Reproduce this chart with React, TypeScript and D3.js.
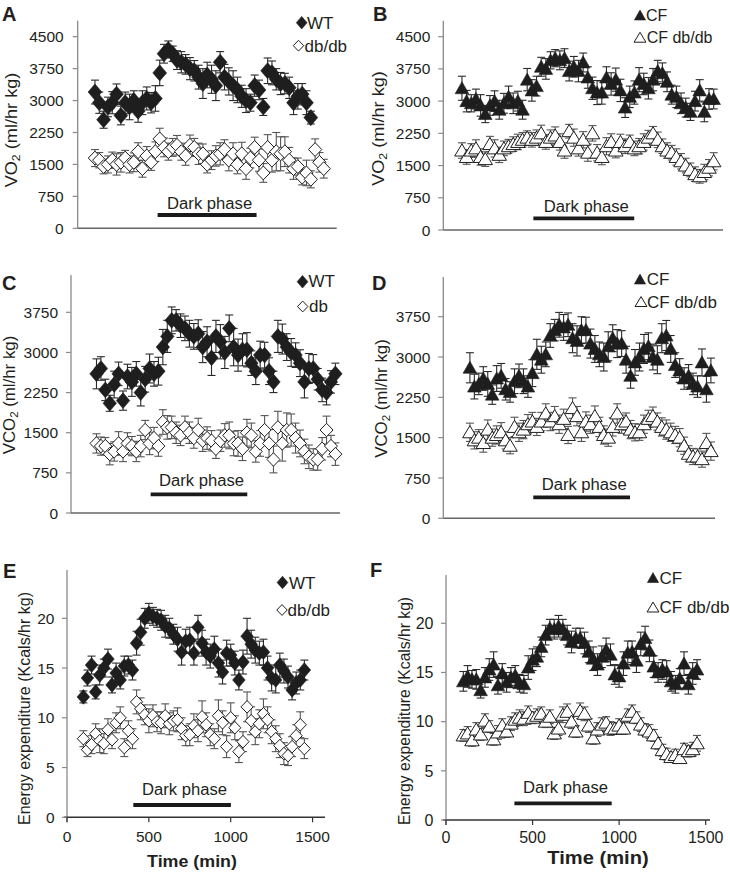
import React from 'react';
import * as d3 from 'd3';

// ---------- DATA ----------
const TIME = [100, 125, 150, 175, 200, 225, 250, 275, 300, 325, 350, 375, 400, 425, 450, 475, 500, 525, 550, 575,
  600, 625, 650, 675, 700, 725, 750, 775, 800, 825, 850, 875, 900, 925, 950, 975, 1000, 1025, 1050, 1075,
  1100, 1125, 1150, 1175, 1200, 1225, 1250, 1275, 1300, 1325, 1350, 1375, 1400, 1425, 1450];

const VO2_WT = [3200, 2950, 2550, 2850, 2950, 3150, 2650, 2950, 2850, 3000, 2750, 2950, 3050, 2950, 3050, 3650, 4100, 4200, 4100, 3950,
  3900, 3850, 3750, 3700, 3550, 3400, 3600, 3500, 3350, 3900, 3550, 3450, 3350, 3250, 3100, 3000, 2950, 3350, 3250, 2850,
  3700, 3650, 3500, 3400, 3400, 3300, 2950, 3100, 3150, 2950, 2600];
const VO2_WT_ERR = [280, 250, 200, 230, 260, 240, 220, 250, 300, 230, 260, 280, 270, 240, 300, 300, 220, 200, 180, 220,
  250, 230, 260, 240, 280, 350, 300, 330, 350, 250, 300, 320, 350, 300, 260, 280, 200, 250, 230, 200,
  300, 280, 250, 260, 240, 250, 280, 300, 250, 280, 150];
const VO2_DB = [1650, 1600, 1450, 1500, 1600, 1500, 1550, 1650, 1500, 1550, 1800, 1400, 1700, 1550, 1800, 2100, 1900, 1800, 1900, 1950,
  1800, 1700, 1950, 1900, 1750, 1750, 1500, 1600, 1700, 1750, 1850, 1600, 1750, 1500, 1750, 1400, 1650, 1900, 1600, 1300,
  1900, 1600, 1800, 1750, 1800, 1600, 1400, 1450, 1200, 1300, 1150, 1850, 1550, 1400];
const VO2_DB_ERR = [200, 180, 170, 200, 190, 250, 230, 180, 200, 220, 210, 200, 220, 190, 230, 250, 220, 200, 210, 230,
  200, 220, 240, 210, 250, 230, 200, 220, 240, 260, 230, 250, 260, 220, 270, 250, 230, 240, 260, 220,
  300, 280, 450, 400, 350, 300, 250, 200, 180, 300, 200, 250, 230, 220];

const VO2_CF = [3300, 3000, 2950, 3050, 2900, 2700, 2900, 3000, 2800, 2950, 3100, 2950, 3000, 2800, 3500, 3250, 3350, 3800, 3750, 3950,
  4000, 3950, 4000, 3700, 3800, 3700, 3900, 3550, 3300, 3200, 3200, 3550, 3400, 3500, 3250, 2850, 3100, 3200, 3500, 3400,
  3300, 3500, 3700, 3650, 3450, 3150, 3100, 2950, 2850, 2750, 3000, 3250, 2750, 3050, 3050];
const VO2_CF_ERR = [280, 250, 200, 230, 250, 200, 230, 240, 220, 230, 250, 240, 230, 220, 260, 250, 230, 220, 240, 200,
  200, 220, 220, 230, 240, 250, 220, 250, 260, 280, 270, 250, 260, 270, 260, 230, 250, 270, 280, 250,
  250, 260, 250, 240, 230, 220, 250, 240, 220, 200, 230, 250, 230, 240, 230];
const VO2_CFDB = [1850, 1700, 1850, 1900, 1700, 1650, 2000, 1900, 1750, 1900, 1950, 2000, 2050, 2100, 2150, 2100, 2150, 2250, 2050, 2150,
  2200, 2050, 1850, 2300, 2150, 1900, 2100, 1800, 2250, 1800, 1700, 1950, 2050, 1850, 2050, 1950, 2050, 1900, 1950, 2050,
  2150, 2250, 2100, 1950, 1850, 1800, 1700, 1600, 1500, 1400, 1300, 1250, 1350, 1450, 1600];
const VO2_CFDB_ERR = [180, 170, 160, 200, 190, 170, 180, 200, 180, 170, 160, 170, 180, 170, 160, 170, 180, 190, 170, 180,
  200, 190, 180, 160, 200, 180, 190, 200, 180, 190, 180, 200, 190, 170, 180, 170, 160, 170, 180, 190,
  170, 160, 180, 170, 180, 170, 190, 180, 170, 160, 170, 160, 180, 190, 200];

const VCO2_WT = [2600, 2700, 2300, 2050, 2400, 2600, 2100, 2550, 2450, 2600, 2250, 2500, 2700, 2600, 2650, 3100, 3300, 3600, 3600, 3500,
  3450, 3350, 3300, 3350, 3100, 3200, 2900, 3300, 3200, 3000, 3450, 3100, 2950, 3050, 3050, 2800, 2650, 2950, 2950, 2650,
  2450, 3300, 3250, 3100, 3000, 2950, 2800, 2450, 2700, 2700, 2500, 2300, 2250, 2450, 2600];
const VCO2_WT_ERR = [280, 220, 200, 150, 250, 220, 180, 230, 270, 230, 250, 240, 270, 230, 260, 330, 300, 250, 200, 220,
  230, 250, 240, 260, 290, 280, 330, 300, 320, 300, 250, 350, 300, 300, 320, 230, 250, 260, 240, 250,
  200, 300, 280, 250, 260, 230, 250, 300, 280, 260, 200, 220, 230, 210, 200];
const VCO2_DB = [1300, 1250, 1250, 1100, 1150, 1300, 1150, 1300, 1250, 1150, 1250, 1550, 1300, 1400, 1250, 1700, 1600, 1600, 1500, 1450,
  1600, 1500, 1400, 1550, 1350, 1400, 1350, 1200, 1350, 1450, 1450, 1300, 1300, 1200, 1500, 1450, 1150, 1300, 1550, 1300,
  1000, 1600, 1300, 1550, 1550, 1400, 1300, 1150, 1050, 1000, 1000, 1200, 1550, 1250, 1100];
const VCO2_DB_ERR = [180, 170, 160, 200, 180, 220, 190, 200, 180, 190, 200, 180, 210, 200, 190, 230, 220, 210, 200, 190,
  210, 200, 190, 220, 200, 210, 190, 180, 200, 220, 250, 230, 240, 220, 250, 230, 200, 240, 270, 260,
  250, 300, 330, 320, 300, 280, 250, 230, 220, 200, 200, 210, 260, 200, 210];

const VCO2_CF = [2800, 2450, 2500, 2600, 2500, 2300, 2600, 2650, 2400, 2350, 2550, 2650, 2550, 2450, 2700, 3050, 2950, 3050, 3400, 3500,
  3600, 3550, 3600, 3350, 3300, 3500, 3500, 3250, 3150, 3050, 3000, 3200, 3350, 3250, 3250, 2950, 2650, 2900, 3000, 3150,
  3200, 3000, 2950, 3350, 3400, 3150, 2850, 2750, 2600, 2650, 2500, 2450, 2900, 2400, 2750];
const VCO2_CF_ERR = [280, 230, 200, 220, 230, 180, 240, 230, 200, 190, 230, 220, 230, 200, 250, 280, 250, 230, 220, 200,
  230, 240, 220, 270, 280, 250, 240, 270, 250, 230, 260, 270, 250, 260, 240, 250, 230, 240, 260, 270,
  250, 240, 260, 270, 280, 250, 230, 220, 200, 210, 200, 200, 250, 240, 230];
const VCO2_CFDB = [1600, 1450, 1500, 1400, 1650, 1500, 1550, 1600, 1450, 1350, 1700, 1600, 1650, 1750, 1800, 1700, 1800, 1950, 1800, 1900,
  1750, 1850, 1550, 2050, 1900, 1600, 1800, 1750, 1900, 1700, 1550, 1500, 1700, 1950, 1750, 1800, 1650, 1600, 1600, 1750,
  1850, 1900, 1800, 1700, 1650, 1600, 1550, 1500, 1350, 1200, 1150, 1150, 1100, 1400, 1250];
const VCO2_CFDB_ERR = [170, 160, 150, 170, 180, 160, 170, 180, 160, 150, 180, 170, 170, 180, 170, 160, 170, 180, 170, 180,
  170, 180, 160, 190, 180, 170, 180, 170, 190, 180, 170, 160, 170, 180, 170, 160, 170, 160, 150, 170,
  160, 170, 160, 170, 180, 170, 160, 170, 160, 150, 150, 140, 150, 180, 170];

const EE_WT = [12.1, 14.0, 15.3, 12.6, 14.3, 15.0, 15.9, 13.3, 14.5, 13.8, 15.2, 15.3, 14.8, 17.5, 18.6, 20.0, 20.5, 20.2, 20.0, 19.8,
  19.2, 19.0, 18.4, 17.9, 16.6, 17.7, 17.8, 16.5, 19.1, 17.5, 16.6, 16.2, 16.9, 15.5, 14.6, 16.5, 16.3, 15.5, 13.8, 15.6,
  18.2, 17.4, 16.8, 16.5, 16.6, 15.0, 14.0, 13.8, 15.3, 14.7, 14.1, 12.8, 13.5, 13.8, 14.8];
const EE_WT_ERR = [0.6, 0.8, 0.9, 0.7, 1.0, 0.9, 1.0, 0.8, 1.0, 0.9, 1.0, 0.9, 1.0, 1.2, 1.3, 1.0, 1.0, 0.9, 0.9, 1.0,
  1.1, 1.0, 1.0, 1.2, 1.3, 1.2, 1.3, 1.2, 1.2, 1.3, 1.3, 1.2, 1.3, 1.4, 1.2, 1.3, 1.1, 1.2, 1.0, 1.2,
  1.8, 1.4, 1.3, 1.2, 1.3, 1.2, 1.3, 1.3, 1.2, 1.2, 1.1, 1.0, 1.1, 1.0, 1.0];
const EE_DB = [7.9, 6.8, 7.3, 8.4, 7.7, 7.4, 8.8, 7.8, 9.5, 10.0, 7.0, 8.7, 7.9, 11.6, 10.9, 10.3, 9.7, 10.2, 9.6, 9.5,
  10.2, 9.4, 9.7, 9.8, 8.9, 8.2, 8.3, 9.2, 8.7, 10.1, 9.3, 8.3, 7.9, 10.2, 9.5, 7.1, 10.0, 9.0, 6.6, 7.6,
  11.1, 9.7, 8.6, 9.4, 10.4, 9.8, 8.6, 7.9, 7.2, 6.4, 6.2, 7.1, 8.2, 9.3, 6.9];
const EE_DB_ERR = [0.8, 0.7, 0.9, 1.0, 1.2, 1.0, 1.1, 0.9, 1.0, 1.1, 0.9, 1.0, 1.0, 1.2, 1.1, 1.0, 1.2, 1.1, 1.0, 1.1,
  1.2, 1.1, 1.0, 1.2, 1.1, 1.0, 1.1, 1.2, 1.1, 1.6, 1.2, 1.1, 1.0, 1.6, 1.2, 1.1, 1.5, 1.2, 1.1, 1.0,
  1.5, 1.4, 1.3, 1.4, 1.5, 1.3, 1.2, 1.3, 1.2, 1.1, 1.0, 1.0, 1.1, 1.3, 1.0];

const EE_CF = [14.1, 14.6, 14.3, 14.3, 13.2, 14.5, 15.3, 15.8, 13.7, 14.9, 14.0, 14.5, 14.7, 13.9, 13.8, 15.5, 16.3, 16.6, 17.6, 18.8,
  19.5, 19.4, 19.7, 19.4, 18.8, 18.1, 18.5, 18.5, 18.0, 17.1, 16.4, 15.8, 16.6, 17.3, 16.8, 14.8, 14.6, 15.9, 17.0, 17.1,
  16.2, 17.9, 18.5, 17.2, 15.6, 15.0, 15.3, 15.1, 14.1, 13.8, 14.4, 15.9, 13.8, 14.9, 15.3];
const EE_CF_ERR = [1.0, 1.1, 0.9, 1.0, 0.8, 1.0, 1.1, 1.3, 0.9, 1.0, 1.0, 1.0, 1.0, 0.9, 0.9, 1.2, 1.1, 1.0, 1.0, 1.0,
  0.9, 1.0, 1.1, 1.0, 1.0, 1.1, 1.0, 1.0, 1.1, 1.1, 1.2, 1.1, 1.1, 1.2, 1.1, 1.0, 1.1, 1.2, 1.2, 1.1,
  1.2, 1.2, 1.2, 1.1, 1.1, 1.0, 1.0, 1.1, 1.0, 0.9, 1.0, 1.2, 1.0, 1.1, 1.0];
const EE_CFDB = [8.6, 8.8, 8.1, 9.2, 8.7, 10.1, 9.5, 8.2, 8.9, 9.6, 9.0, 9.8, 10.2, 10.4, 10.3, 10.9, 10.4, 10.6, 10.8, 10.0,
  10.5, 8.8, 9.3, 10.7, 11.0, 10.0, 9.0, 11.1, 10.8, 9.6, 8.3, 9.2, 9.7, 9.9, 9.3, 9.3, 9.6, 9.3, 10.6, 11.0,
  10.4, 9.7, 9.2, 9.0, 8.6, 7.8, 7.1, 6.7, 6.4, 6.6, 6.3, 7.2, 7.0, 7.2, 7.8];
const EE_CFDB_ERR = [0.6, 0.7, 0.6, 0.7, 0.6, 0.7, 0.6, 0.6, 0.7, 0.7, 0.6, 0.7, 0.7, 0.8, 0.7, 0.7, 0.6, 0.7, 0.7, 0.6,
  0.7, 0.6, 0.7, 0.8, 0.8, 0.7, 0.6, 0.8, 0.7, 0.7, 0.6, 0.7, 0.7, 0.6, 0.7, 0.6, 0.7, 0.6, 0.7, 0.7,
  0.6, 0.7, 0.6, 0.7, 0.6, 0.6, 0.6, 0.6, 0.5, 0.6, 0.5, 0.6, 0.6, 0.7, 0.8];

const GAS_TICKS = [0, 750, 1500, 2250, 3000, 3750, 4500];
const GAS_TICKS_CO2 = [0, 750, 1500, 2250, 3000, 3750];
const EE_TICKS = [0, 5, 10, 15, 20];
const TIME_TICKS = [0, 500, 1000, 1500];
const DARK_A = [463, 1036];
const DARK_B = [483, 1024];
const DARK_C = [406, 952];
const DARK_D = [455, 997];
const DARK_E = [405, 1001];
const DARK_F = [395, 957];

// ---------- RENDERING ----------
const FONT = '"Liberation Sans", Arial, Helvetica, sans-serif';
const INK = '#231f20';

type Shape = 'diamond' | 'triangle';

function markerPath(shape: Shape, filled: boolean, k: number): string {
  const f = (n: number) => (n * k).toFixed(2);
  if (shape === 'diamond') {
    return filled
      ? `M0,${f(-7)}L${f(6)},0L0,${f(7)}L${f(-6)},0Z`
      : `M0,${f(-6)}L${f(5.8)},0L0,${f(6)}L${f(-5.8)},0Z`;
  }
  return filled
    ? `M0,${f(-6)}L${f(6.2)},${f(5)}L${f(-6.2)},${f(5)}Z`
    : `M0,${f(-6)}L${f(6.6)},${f(5)}L${f(-6.6)},${f(5)}Z`;
}

function Txt(props: any) {
  const { x, y, size, sx = 1, anchor = 'start', weight = 'normal', rotate = false, children } = props;
  const tr = rotate ? `translate(${x},${y}) rotate(-90) scale(${sx},1)` : `translate(${x},${y}) scale(${sx},1)`;
  return (
    <text transform={tr} fontSize={size} fontFamily={FONT} textAnchor={anchor} fontWeight={weight} fill={INK}>
      {children}
    </text>
  );
}

type SeriesCfg = { values: number[]; errors: number[]; shape: Shape; filled: boolean };
type LegendCfg = { shape: Shape; filled: boolean; mx: number; my: number; tx: number; ty: number; label: string };

type PanelCfg = {
  letter: string; lx: number; ly: number;
  axisX: number; xEnd: number; xDomain: [number, number];
  y0: number; refVal: number; refPx: number; yTop: number; yTicks: number[]; tickSize: number; tickGap: number;
  yLabel: 'VO' | 'VCO' | 'EE'; ylx: number; yly: number; ylSize: number; ylSx: number;
  series: SeriesCfg[]; legend: LegendCfg[]; legSize: number; ms: number;
  dark: number[]; darkBarY: number; darkTextY: number;
  xTicks?: number[]; xTickY?: number; xTickSize?: number; timeX?: number; timeY?: number; timeSize?: number; timeSx?: number;
};

function Panel({ c }: { c: PanelCfg }) {
  const x = d3.scaleLinear().domain(c.xDomain).range([c.axisX, c.xEnd]);
  const y = d3.scaleLinear().domain([0, c.refVal]).range([c.y0, c.refPx]);
  const capW = 4;
  const darkMid = (x(c.dark[0]) + x(c.dark[1])) / 2 + 2.5;

  let yLabel: React.ReactNode;
  const sub = (
    <tspan fontSize={c.ylSize * 0.68} dy={3}>2</tspan>
  );
  if (c.yLabel === 'VO') yLabel = (<>VO{sub}<tspan dy={-3}> (ml/hr kg)</tspan></>);
  else if (c.yLabel === 'VCO') yLabel = (<>VCO{sub}<tspan dy={-3}> (ml/hr kg)</tspan></>);
  else yLabel = 'Energy expenditure (Kcals/hr kg)';

  return (
    <g>
      <Txt x={c.lx} y={c.ly} size={20} weight="bold">{c.letter}</Txt>
      {/* axes */}
      <line x1={c.axisX} x2={c.axisX} y1={c.yTop} y2={c.y0 + (c.xTicks ? 5 : 0)} stroke="#8a8a8a" strokeWidth={1.3} />
      <line x1={c.axisX - (c.xTicks ? 3 : 0)} x2={c.xEnd} y1={c.y0} y2={c.y0} stroke={c.xTicks ? '#333' : '#666'} strokeWidth={1.5} />
      {c.yTicks.map((t) => (
        <g key={'yt' + t}>
          <line x1={c.axisX - 5} x2={c.axisX} y1={y(t)} y2={y(t)} stroke="#8a8a8a" strokeWidth={1.2} />
          <Txt x={c.axisX - c.tickGap} y={y(t) + c.tickSize * 0.36} size={c.tickSize} anchor="end">{t}</Txt>
        </g>
      ))}
      {c.xTicks && c.xTicks.map((t) => (
        <g key={'xt' + t}>
          <line x1={x(t)} x2={x(t)} y1={c.y0} y2={c.y0 + 5} stroke="#333" strokeWidth={1.2} />
          <Txt x={x(t)} y={c.xTickY} size={c.xTickSize} anchor="middle">{t}</Txt>
        </g>
      ))}
      {c.timeX !== undefined && (
        <Txt x={c.timeX} y={c.timeY} size={c.timeSize} sx={c.timeSx} anchor="middle" weight="bold">Time (min)</Txt>
      )}
      <Txt x={c.ylx} y={c.yly} size={c.ylSize} sx={c.ylSx} anchor="middle" rotate>{yLabel}</Txt>
      {/* dark phase */}
      <line x1={x(c.dark[0])} x2={x(c.dark[1])} y1={c.darkBarY} y2={c.darkBarY} stroke="#1a1a1a" strokeWidth={3.8} />
      <Txt x={darkMid} y={c.darkTextY} size={16} sx={1.04} anchor="middle">Dark phase</Txt>
      {/* series */}
      {c.series.map((s, si) => {
        const col = s.filled ? '#2a2a2a' : '#555';
        return (
          <g key={'s' + si}>
            {s.values.map((v, i) => {
              const px = x(TIME[i]);
              const e = s.errors[i];
              return (
                <g key={'e' + i} stroke={col} strokeWidth={1.1}>
                  <line x1={px} x2={px} y1={y(v - e)} y2={y(v + e)} />
                  <line x1={px - capW} x2={px + capW} y1={y(v + e)} y2={y(v + e)} />
                  <line x1={px - capW} x2={px + capW} y1={y(v - e)} y2={y(v - e)} />
                </g>
              );
            })}
            {s.values.map((v, i) => (
              <path key={'m' + i} d={markerPath(s.shape, s.filled, c.ms)} transform={`translate(${x(TIME[i])},${y(v)})`}
                fill={s.filled ? '#1e1e1e' : '#fff'} stroke="#1e1e1e" strokeWidth={s.filled ? 0.6 : 1} />
            ))}
          </g>
        );
      })}
      {/* legend */}
      {c.legend.map((l, i) => (
        <g key={'l' + i}>
          <path d={markerPath(l.shape, l.filled, 0.9)} transform={`translate(${l.mx},${l.my})`}
            fill={l.filled ? '#1e1e1e' : '#fff'} stroke="#1e1e1e" strokeWidth={l.filled ? 0.6 : 1} />
          <Txt x={l.tx} y={l.ty} size={c.legSize}>{l.label}</Txt>
        </g>
      ))}
    </g>
  );
}

const PANELS: PanelCfg[] = [
  {
    letter: 'A', lx: 2, ly: 21, axisX: 77.7, xEnd: 336.7, xDomain: [0, 1500],
    y0: 228.3, refVal: 4500, refPx: 36.7, yTop: 20.7, yTicks: GAS_TICKS, tickSize: 15.5, tickGap: 14,
    yLabel: 'VO', ylx: 17, yly: 130, ylSize: 16.5, ylSx: 1.1,
    series: [
      { values: VO2_DB, errors: VO2_DB_ERR, shape: 'diamond', filled: false },
      { values: VO2_WT, errors: VO2_WT_ERR, shape: 'diamond', filled: true },
    ],
    legend: [
      { shape: 'diamond', filled: true, mx: 301.7, my: 22.7, tx: 307, ty: 28.5, label: 'WT' },
      { shape: 'diamond', filled: false, mx: 298.5, my: 45.7, tx: 304.5, ty: 51.5, label: 'db/db' },
    ], legSize: 17, ms: 1.15,
    dark: DARK_A, darkBarY: 215, darkTextY: 208.5,
  },
  {
    letter: 'B', lx: 373, ly: 21, axisX: 443.3, xEnd: 723, xDomain: [0, 1500],
    y0: 230, refVal: 4500, refPx: 36.7, yTop: 20.7, yTicks: GAS_TICKS, tickSize: 15.5, tickGap: 13,
    yLabel: 'VO', ylx: 383.5, yly: 128.5, ylSize: 16.5, ylSx: 1.1,
    series: [
      { values: VO2_CFDB, errors: VO2_CFDB_ERR, shape: 'triangle', filled: false },
      { values: VO2_CF, errors: VO2_CF_ERR, shape: 'triangle', filled: true },
    ],
    legend: [
      { shape: 'triangle', filled: true, mx: 640, my: 15.5, tx: 646, ty: 20.5, label: 'CF' },
      { shape: 'triangle', filled: false, mx: 640, my: 37.7, tx: 646.7, ty: 43, label: 'CF db/db' },
    ], legSize: 16, ms: 1.1,
    dark: DARK_B, darkBarY: 218.3, darkTextY: 211.5,
  },
  {
    letter: 'C', lx: 2, ly: 290, axisX: 71, xEnd: 340, xDomain: [-44, 1476],
    y0: 513, refVal: 3750, refPx: 312.3, yTop: 275, yTicks: GAS_TICKS_CO2, tickSize: 15.5, tickGap: 13,
    yLabel: 'VCO', ylx: 15, yly: 395, ylSize: 16.5, ylSx: 1.02,
    series: [
      { values: VCO2_DB, errors: VCO2_DB_ERR, shape: 'diamond', filled: false },
      { values: VCO2_WT, errors: VCO2_WT_ERR, shape: 'diamond', filled: true },
    ],
    legend: [
      { shape: 'diamond', filled: true, mx: 302.5, my: 281.7, tx: 308.5, ty: 287.3, label: 'WT' },
      { shape: 'diamond', filled: false, mx: 302.7, my: 306.5, tx: 309, ty: 312, label: 'db' },
    ], legSize: 17, ms: 1.12,
    dark: DARK_C, darkBarY: 494.3, darkTextY: 486,
  },
  {
    letter: 'D', lx: 372, ly: 290, axisX: 443.3, xEnd: 715, xDomain: [-49, 1473],
    y0: 518.3, refVal: 3750, refPx: 316.7, yTop: 277, yTicks: GAS_TICKS_CO2, tickSize: 15.5, tickGap: 13,
    yLabel: 'VCO', ylx: 386.5, yly: 398.5, ylSize: 16.5, ylSx: 1.02,
    series: [
      { values: VCO2_CFDB, errors: VCO2_CFDB_ERR, shape: 'triangle', filled: false },
      { values: VCO2_CF, errors: VCO2_CF_ERR, shape: 'triangle', filled: true },
    ],
    legend: [
      { shape: 'triangle', filled: true, mx: 640, my: 279.5, tx: 646.7, ty: 285, label: 'CF' },
      { shape: 'triangle', filled: false, mx: 641, my: 302, tx: 647, ty: 307.5, label: 'CF db/db' },
    ], legSize: 17, ms: 1.1,
    dark: DARK_D, darkBarY: 497.3, darkTextY: 489.5,
  },
  {
    letter: 'E', lx: 3, ly: 578, axisX: 67, xEnd: 325, xDomain: [0, 1576],
    y0: 817.3, refVal: 20, refPx: 618.3, yTop: 570, yTicks: EE_TICKS, tickSize: 15.5, tickGap: 12.5,
    yLabel: 'EE', ylx: 30, yly: 708.5, ylSize: 16, ylSx: 1.0,
    series: [
      { values: EE_DB, errors: EE_DB_ERR, shape: 'diamond', filled: false },
      { values: EE_WT, errors: EE_WT_ERR, shape: 'diamond', filled: true },
    ],
    legend: [
      { shape: 'diamond', filled: true, mx: 282.5, my: 582.5, tx: 289, ty: 588.5, label: 'WT' },
      { shape: 'diamond', filled: false, mx: 282, my: 610, tx: 287.5, ty: 615.5, label: 'db/db' },
    ], legSize: 17, ms: 1.05,
    dark: DARK_E, darkBarY: 805, darkTextY: 794.5,
    xTicks: TIME_TICKS, xTickY: 841.5, xTickSize: 15.5, timeX: 192, timeY: 866.5, timeSize: 17, timeSx: 1.05,
  },
  {
    letter: 'F', lx: 370, ly: 577, axisX: 446, xEnd: 710, xDomain: [0, 1525],
    y0: 820, refVal: 20, refPx: 623.3, yTop: 575, yTicks: EE_TICKS, tickSize: 16, tickGap: 12.5,
    yLabel: 'EE', ylx: 410, yly: 711, ylSize: 16, ylSx: 0.98,
    series: [
      { values: EE_CFDB, errors: EE_CFDB_ERR, shape: 'triangle', filled: false },
      { values: EE_CF, errors: EE_CF_ERR, shape: 'triangle', filled: true },
    ],
    legend: [
      { shape: 'triangle', filled: true, mx: 653, my: 578, tx: 659.5, ty: 583.5, label: 'CF' },
      { shape: 'triangle', filled: false, mx: 653, my: 607.5, tx: 659.5, ty: 613, label: 'CF db/db' },
    ], legSize: 17, ms: 1.1,
    dark: DARK_F, darkBarY: 803.3, darkTextY: 792.5,
    xTicks: TIME_TICKS, xTickY: 843.3, xTickSize: 16, timeX: 598, timeY: 864, timeSize: 17.5, timeSx: 1.15,
  },
];

export default function App() {
  return (
    <div style={{ position: 'absolute', left: 0, top: 0 }}>
      <svg width={730} height={876} style={{ display: 'block', background: '#fff' }}>
        {PANELS.map((p) => (
          <Panel key={p.letter} c={p} />
        ))}
      </svg>
    </div>
  );
}
